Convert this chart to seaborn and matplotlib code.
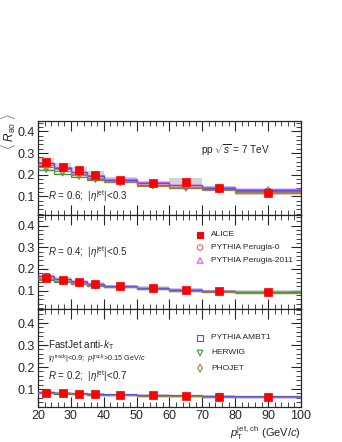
import numpy as np
import matplotlib
matplotlib.use("Agg")
import matplotlib.pyplot as plt
import seaborn as sns
from matplotlib.ticker import MultipleLocator

# ------------------------------
# data
# ------------------------------
edges = [20, 25, 30, 35, 40, 50, 60, 70, 80, 100]
centers = [22.5, 27.5, 32.5, 37.5, 45, 55, 65, 75, 90]

# R = 0.6
alice_06 = [0.261, 0.238, 0.220, 0.201, 0.178, 0.160, 0.165, 0.137, 0.116]
sys_06 = [0.018, 0.018, 0.018, 0.017, 0.012, 0.012, 0.022, 0.012, 0.010]
p0_06 = [0.245, 0.225, 0.205, 0.185, 0.170, 0.155, 0.145, 0.135, 0.118]
p11_06 = [0.255, 0.235, 0.215, 0.198, 0.180, 0.165, 0.155, 0.145, 0.135]
ambt1_06 = [0.255, 0.232, 0.212, 0.195, 0.175, 0.162, 0.152, 0.140, 0.130]
herwig_06 = [0.222, 0.205, 0.190, 0.178, 0.165, 0.152, 0.140, 0.132, 0.125]
phojet_06 = [0.238, 0.218, 0.198, 0.180, 0.165, 0.150, 0.140, 0.130, 0.122]

# R = 0.4
alice_04 = [0.160, 0.151, 0.138, 0.131, 0.120, 0.114, 0.102, 0.097, 0.094]
sys_04 = [0.010, 0.010, 0.009, 0.009, 0.008, 0.008, 0.008, 0.007, 0.007]
p0_04 = [0.158, 0.145, 0.135, 0.125, 0.115, 0.108, 0.100, 0.094, 0.088]
p11_04 = [0.165, 0.152, 0.140, 0.130, 0.120, 0.113, 0.105, 0.100, 0.095]
ambt1_04 = [0.168, 0.153, 0.142, 0.130, 0.121, 0.112, 0.104, 0.099, 0.094]
herwig_04 = [0.150, 0.140, 0.130, 0.122, 0.115, 0.108, 0.100, 0.096, 0.092]
phojet_04 = [0.155, 0.142, 0.132, 0.123, 0.115, 0.107, 0.099, 0.094, 0.090]

# R = 0.2
alice_02 = [0.083, 0.081, 0.079, 0.076, 0.074, 0.071, 0.069, 0.066, 0.064]
sys_02 = [0.004, 0.004, 0.004, 0.004, 0.003, 0.003, 0.003, 0.003, 0.003]
p0_02 = [0.082, 0.080, 0.077, 0.075, 0.072, 0.069, 0.067, 0.065, 0.063]
p11_02 = [0.085, 0.083, 0.080, 0.078, 0.075, 0.072, 0.070, 0.068, 0.066]
ambt1_02 = [0.087, 0.084, 0.081, 0.079, 0.076, 0.073, 0.071, 0.069, 0.067]
herwig_02 = [0.081, 0.079, 0.077, 0.075, 0.072, 0.070, 0.068, 0.066, 0.064]
phojet_02 = [0.082, 0.080, 0.078, 0.075, 0.073, 0.070, 0.068, 0.066, 0.064]

model_names = ["PYTHIA Perugia-0", "PYTHIA Perugia-2011", "PYTHIA AMBT1", "HERWIG", "PHOJET"]
model_colors = ["#f06060", "#ff40ff", "#5050ff", "#3c963c", "#a08040"]
model_markers = ["o", "^", "s", "v", "d"]

panels = [
    (alice_06, sys_06, [p0_06, p11_06, ambt1_06, herwig_06, phojet_06], r"$R$ = 0.6;  $|\eta^{\rm jet}|$<0.3", 0.102),
    (alice_04, sys_04, [p0_04, p11_04, ambt1_04, herwig_04, phojet_04], r"$R$ = 0.4;  $|\eta^{\rm jet}|$<0.5", 0.28),
    (alice_02, sys_02, [p0_02, p11_02, ambt1_02, herwig_02, phojet_02], r"$R$ = 0.2;  $|\eta^{\rm jet}|$<0.7", 0.16),
]

sns.set_style("ticks")
plt.rcParams["font.family"] = ["Liberation Sans", "DejaVu Sans"]
plt.rcParams["mathtext.fontset"] = "custom"
plt.rcParams["mathtext.rm"] = "Liberation Sans"
plt.rcParams["mathtext.it"] = "Liberation Sans:italic"

fig = plt.figure(figsize=(3.42, 4.42), dpi=100)
left, width = 0.111, 0.769
rects = [(left, 0.514, width, 0.213), (left, 0.301, width, 0.213), (left, 0.079, width, 0.222)]
axes = [fig.add_axes(r) for r in rects]

for i, (ax, (alice, sys, models, label, ly)) in enumerate(zip(axes, panels)):
    alice = np.array(alice)
    sys = np.array(sys)
    # systematic boxes
    for j in range(len(centers)):
        ax.fill_between([edges[j], edges[j + 1]], alice[j] - sys[j], alice[j] + sys[j],
                        color="#c8c8c8", alpha=0.8, lw=0, zorder=1)
    # models as step histograms
    for m, col, mk in zip(models, model_colors, model_markers):
        m = np.array(m)
        ax.stairs(m + 0.003, edges, baseline=m - 0.003, fill=True, color=col, alpha=0.2, lw=0, zorder=2)
        ax.stairs(m, edges, baseline=None, color=col, lw=0.9, zorder=3)
        sns.scatterplot(x=centers, y=m, ax=ax, marker=mk, s=12, facecolor="none",
                        edgecolor=col, linewidth=0.7, zorder=4, legend=False)
    sns.scatterplot(x=centers, y=alice, ax=ax, marker="s", s=40, color="#ff0000",
                    edgecolor="#ff0000", zorder=5, legend=False)
    ax.set_xlim(20, 100)
    ax.set_ylim(0.015, 0.45)
    ax.set_yticks([0.1, 0.2, 0.3, 0.4])
    ax.yaxis.set_minor_locator(MultipleLocator(0.02))
    ax.xaxis.set_major_locator(MultipleLocator(10))
    ax.xaxis.set_minor_locator(MultipleLocator(2))
    ax.tick_params(which="both", direction="in", top=True, right=True, labelsize=9, pad=2)
    ax.tick_params(which="major", length=7, width=0.8)
    ax.tick_params(which="minor", length=3.5, width=0.6)
    ax.set_xlabel("")
    ax.set_ylabel("")
    for s in ax.spines.values():
        s.set_linewidth(0.9)
    if i < 2:
        ax.tick_params(labelbottom=False)
    ax.text(23, ly, label, fontsize=7, ha="left", va="center")

axes[2].set_ylim(0.018, 0.464)

axes[0].text(69.5, 0.312, r"pp $\sqrt{s}$ = 7 TeV", fontsize=7.2, ha="left", va="center")
axes[2].text(23, 0.3, r"FastJet anti-$k_{\rm T}$", fontsize=7.2, ha="left", va="center")
axes[2].text(23, 0.234, r"$|\eta^{\rm track}|$<0.9;  $p_{\rm T}^{\rm track}$>0.15 GeV/$c$", fontsize=5.2,
             ha="left", va="center")

# legends
def legend_row(ax, y, marker, col, name, filled=False):
    ax.scatter([69.3], [y], marker=marker, s=22 if filled else 16, facecolor=col if filled else "none",
               edgecolor=col, linewidth=0.8, zorder=6)
    ax.text(72.7, y, name, fontsize=6.0, ha="left", va="center")

legend_row(axes[1], 0.359, "s", "#ff0000", "ALICE", filled=True)
legend_row(axes[1], 0.299, "o", model_colors[0], model_names[0])
legend_row(axes[1], 0.239, "^", model_colors[1], model_names[1])
legend_row(axes[2], 0.332, "s", model_colors[2], model_names[2])
legend_row(axes[2], 0.264, "v", model_colors[3], model_names[3])
legend_row(axes[2], 0.195, "d", model_colors[4], model_names[4])

fig.text(0.024, 1 - 114 / 442, r"$\langle\ R_{80}\ \rangle$", rotation=90, fontsize=8.5, ha="center", va="top")
fig.text(0.88, 0.0, r"$p_{\rm T}^{\rm jet,\,ch}$ (GeV/$c$)", fontsize=8, ha="right", va="bottom")

fig.savefig("out.png", dpi=100)
